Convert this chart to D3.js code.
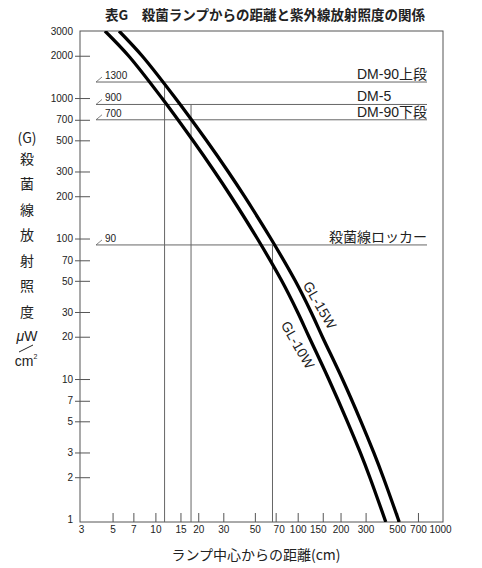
<!DOCTYPE html>
<html>
<head>
<meta charset="utf-8">
<script src="https://cdn.jsdelivr.net/npm/d3@7"></script>
<style>
  body { margin: 0; background: #fff; }
  svg text { font-family: "Liberation Sans", Arial, "Noto Sans CJK JP", sans-serif; fill: #222; }
  .jp { font-family: "Noto Sans CJK JP", sans-serif; }
</style>
</head>
<body>
<svg id="chart"></svg>
<script>
// axis ticks
const xTicks = [3, 5, 7, 10, 15, 20, 30, 50, 70, 100, 150, 200, 300, 500, 700, 1000];
const yTicks = [1, 2, 3, 5, 7, 10, 20, 30, 50, 70, 100, 200, 300, 500, 700, 1000, 2000, 3000];

// lamp curves: distance (cm) at each irradiance (uW/cm2)
const curveIrr  = [3000, 2000, 1000, 500, 300, 200, 100, 50, 30, 20, 10, 5, 3, 2, 0.96];
const gl10Dist = [4.42, 6.47, 11.1, 18.3, 26.0, 33.9, 52.0, 77.2, 99.7, 120, 165, 223, 275, 321, 416];
const gl15Dist = [5.55, 8.05, 13.8, 22.8, 32.4, 42.2, 64.7, 96.1, 124, 149, 206, 278, 342, 399, 517];
const curveNames = ['GL-15W', 'GL-10W'];

// reference levels
const levelValues = [1300, 900, 700, 90];
const levelNames = ['DM-90上段', 'DM-5', 'DM-90下段', '殺菌線ロッカー'];

// drop lines: distance, from level
const dropDist = [11.6, 17.8, 66.5];
const dropFrom = [1300, 900, 90];

const title = '表G　殺菌ランプからの距離と紫外線放射照度の関係';
const xTitle = 'ランプ中心からの距離(cm)';
const yTitle = ['(G)', '殺', '菌', '線', '放', '射', '照', '度'];

const width = 482, height = 568;
const frame = { left: 80, right: 443, top: 31, bottom: 522 };

const svg = d3.select('#chart')
    .attr('width', width)
    .attr('height', height);

const x = d3.scaleLog().domain([3, 1000]).range([81, 440]);
const y = d3.scaleLog().domain([0.96, 3000]).range([frame.bottom, frame.top]);

svg.append('defs').append('clipPath')
    .attr('id', 'plot-clip')
  .append('rect')
    .attr('x', frame.left)
    .attr('y', frame.top)
    .attr('width', frame.right - frame.left)
    .attr('height', frame.bottom - frame.top);

// title
svg.append('text')
    .attr('class', 'jp')
    .attr('x', 265)
    .attr('y', 20)
    .attr('text-anchor', 'middle')
    .style('font-size', '13.5px')
    .style('font-weight', 'bold')
    .text(title);

// y axis
const yAxis = svg.append('g')
    .attr('transform', `translate(${frame.left},0)`)
    .call(d3.axisLeft(y).tickValues(yTicks).tickFormat(d3.format('d')).tickSizeInner(-10).tickSizeOuter(0).tickPadding(7));
yAxis.select('.domain').remove();
yAxis.selectAll('.tick line')
    .attr('x1', -5)
    .attr('stroke', '#555')
    .attr('display', d => (d === 1 || d === 3000) ? 'none' : null);
yAxis.selectAll('.tick text')
    .style('font-size', '10px')
    .attr('fill', '#222');

// x axis
const xAxis = svg.append('g')
    .attr('transform', `translate(0,${frame.bottom})`)
    .call(d3.axisBottom(x).tickValues(xTicks).tickFormat(d3.format('d')).tickSizeInner(-9).tickSizeOuter(0).tickPadding(4));
xAxis.select('.domain').remove();
xAxis.selectAll('.tick line')
    .attr('stroke', '#555')
    .attr('display', d => (d === 3 || d === 1000) ? 'none' : null);
xAxis.selectAll('.tick text')
    .style('font-size', '10px')
    .attr('fill', '#222')
    // the printed labels are squeezed a little round 70-150
    .attr('dx', d => d === 150 ? -5 : d === 70 ? 3 : 0);

// frame
svg.append('rect')
    .attr('x', frame.left)
    .attr('y', frame.top)
    .attr('width', frame.right - frame.left)
    .attr('height', frame.bottom - frame.top)
    .attr('fill', 'none')
    .attr('stroke', '#555')
    .attr('stroke-width', 1);

// level lines
const lineStart = 96, lineEnd = 427;
const levels = svg.append('g').selectAll('g.level')
    .data(levelValues)
    .join('g')
        .classed('level', true);

levels.append('line')
    .attr('x1', lineStart)
    .attr('x2', lineEnd)
    .attr('y1', d => y(d))
    .attr('y2', d => y(d))
    .attr('stroke', '#666')
    .attr('stroke-width', 1);

levels.append('line')
    .attr('x1', lineStart)
    .attr('x2', lineStart + 6)
    .attr('y1', d => y(d))
    .attr('y2', d => y(d) - 5)
    .attr('stroke', '#666')
    .attr('stroke-width', 0.8);

levels.append('text')
    .attr('x', lineStart + 9)
    .attr('y', d => y(d) - 3)
    .style('font-size', '10px')
    .text(d => d);

const names = levels.append('text')
    .attr('x', lineEnd)
    .attr('y', d => y(d) - 3)
    .attr('text-anchor', 'end')
    .style('font-size', '14px')
    .text((d, i) => levelNames[i]);

// DM-5 lines up with the left edge of the label above it
const firstLeft = names.nodes()[0].getBBox().x;
names.filter((d, i) => levelNames[i] === 'DM-5')
    .attr('text-anchor', 'start')
    .attr('x', firstLeft);

// drop lines
svg.append('g').selectAll('line')
    .data(dropDist)
    .join('line')
        .attr('x1', d => x(d))
        .attr('x2', d => x(d))
        .attr('y1', (d, i) => y(dropFrom[i]))
        .attr('y2', frame.bottom)
        .attr('stroke', '#666')
        .attr('stroke-width', 1);

// lamp curves
const curves = [
    gl15Dist.map((d, i) => [d, curveIrr[i]]),
    gl10Dist.map((d, i) => [d, curveIrr[i]])
];

const line = d3.line()
    .x(d => x(d[0]))
    .y(d => y(d[1]))
    .curve(d3.curveCatmullRom.alpha(0.5));

svg.append('g')
    .attr('clip-path', 'url(#plot-clip)')
  .selectAll('path')
    .data(curves)
    .join('path')
        .attr('d', line)
        .attr('fill', 'none')
        .attr('stroke', '#000')
        .attr('stroke-width', 3.3);

// curve labels, along the lines
const labelDist = [143, 100];
const labelIrr = [33.6, 17.5];
svg.append('g').selectAll('text')
    .data(curveNames)
    .join('text')
        .attr('transform', (d, i) => `translate(${x(labelDist[i])},${y(labelIrr[i])}) rotate(60)`)
        .attr('text-anchor', 'middle')
        .attr('dy', '0.35em')
        .style('font-size', '14px')
        .text(d => d);

// x title
svg.append('text')
    .attr('class', 'jp')
    .attr('x', 256)
    .attr('y', 560)
    .attr('text-anchor', 'middle')
    .style('font-size', '14px')
    .text(xTitle);

// y title, stacked vertically
svg.append('g').selectAll('text')
    .data(yTitle)
    .join('text')
        .attr('class', 'jp')
        .attr('x', 27)
        .attr('y', (d, i) => i === 0 ? 143 : 138 + i * 25.5)
        .attr('text-anchor', 'middle')
        .style('font-size', '14px')
        .text(d => d);

const unit = svg.append('g');
unit.append('text')
    .attr('x', 27)
    .attr('y', 341)
    .attr('text-anchor', 'middle')
    .style('font-size', '14px')
    .html('<tspan font-style="italic">μ</tspan>W');
unit.append('line')
    .attr('x1', 19)
    .attr('y1', 352)
    .attr('x2', 33)
    .attr('y2', 345)
    .attr('stroke', '#222')
    .attr('stroke-width', 1);
unit.append('text')
    .attr('x', 26)
    .attr('y', 366)
    .attr('text-anchor', 'middle')
    .style('font-size', '14px')
    .html('cm<tspan dy="-7" font-size="7">2</tspan>');
</script>
</body>
</html>
